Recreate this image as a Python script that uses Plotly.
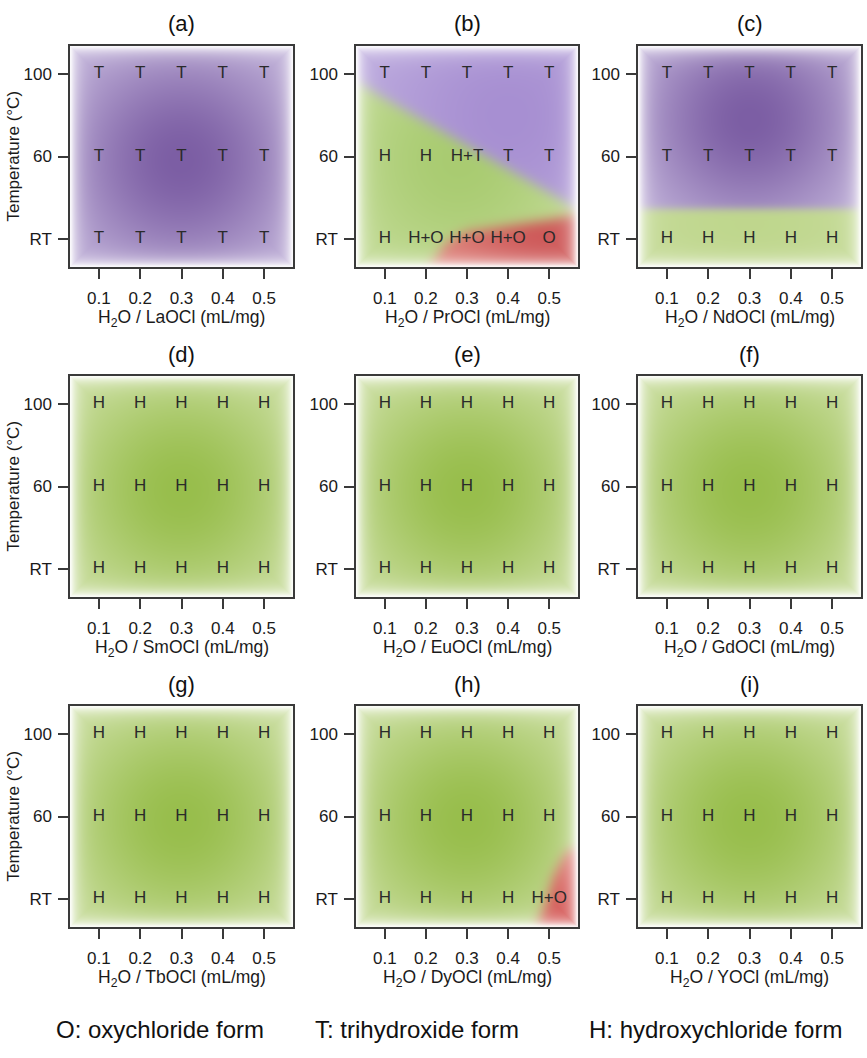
import numpy as np
import plotly.graph_objects as go

# ---------------- data ----------------
x_ratio = [0.1, 0.2, 0.3, 0.4, 0.5]          # H2O / REOCl (mL/mg)
temp_labels = ["RT", "60", "100"]             # rows, bottom to top
compounds = ["LaOCl", "PrOCl", "NdOCl", "SmOCl", "EuOCl", "GdOCl", "TbOCl", "DyOCl", "YOCl"]
panel_tags = ["(a)", "(b)", "(c)", "(d)", "(e)", "(f)", "(g)", "(h)", "(i)"]

# phase found at each (temperature row, ratio column)
phase_LaOCl = [["T", "T", "T", "T", "T"], ["T", "T", "T", "T", "T"], ["T", "T", "T", "T", "T"]]
phase_PrOCl = [["H", "H+O", "H+O", "H+O", "O"], ["H", "H", "H+T", "T", "T"], ["T", "T", "T", "T", "T"]]
phase_NdOCl = [["H", "H", "H", "H", "H"], ["T", "T", "T", "T", "T"], ["T", "T", "T", "T", "T"]]
phase_SmOCl = [["H"] * 5, ["H"] * 5, ["H"] * 5]
phase_EuOCl = [["H"] * 5, ["H"] * 5, ["H"] * 5]
phase_GdOCl = [["H"] * 5, ["H"] * 5, ["H"] * 5]
phase_TbOCl = [["H"] * 5, ["H"] * 5, ["H"] * 5]
phase_DyOCl = [["H", "H", "H", "H", "H+O"], ["H"] * 5, ["H"] * 5]
phase_YOCl = [["H"] * 5, ["H"] * 5, ["H"] * 5]
phases = [phase_LaOCl, phase_PrOCl, phase_NdOCl, phase_SmOCl, phase_EuOCl,
          phase_GdOCl, phase_TbOCl, phase_DyOCl, phase_YOCl]

# phase-region boundaries (x in mL/mg, y as temperature row index: RT=0, 60=1, 100=2)
PrOCl_T_edge_x = [0.03, 0.57]
PrOCl_T_edge_y = [1.90, 0.36]            # trihydroxide above this edge
PrOCl_O_edge_x = [0.21, 0.25, 0.30, 0.40, 0.50, 0.57]
PrOCl_O_edge_y = [-0.34, -0.04, 0.09, 0.16, 0.23, 0.30]   # oxychloride below this edge
NdOCl_T_edge_x = [0.03, 0.57]
NdOCl_T_edge_y = [0.36, 0.36]            # trihydroxide above this edge
DyOCl_O_edge_x = [0.47, 0.495, 0.51, 0.534, 0.55, 0.57]
DyOCl_O_edge_y = [-0.34, 0.0, 0.27, 0.50, 0.60, 0.62]     # oxychloride below this edge

legend_items = ["O: oxychloride form", "T: trihydroxide form", "H: hydroxychloride form"]

# ---------------- style / layout ----------------
W, H = 867, 1058
col_px = [(70, 293), (356, 578), (638, 861)]
row_px = [(46, 267), (376, 597), (706, 927)]
XR = [0.03, 0.57]
YR = [-0.34, 2.34]
FONT = "Liberation Sans, Arial, sans-serif"
LINE = "#3a3a3a"

PAL = {  # (dark centre colour, light outer colour)
    "T": ((124, 94, 164), (206, 194, 228)),
    "H": ((152, 190, 76), (212, 228, 176)),
    "O": ((212, 86, 84), (234, 156, 150)),
    "T_b": ((160, 134, 206), (196, 180, 226)),
    "H_b": ((160, 198, 100), (206, 226, 166)),
    "O_b": ((206, 88, 88), (226, 140, 130)),
}


def blur(a, sigma):
    r = int(3 * sigma)
    k = np.exp(-0.5 * (np.arange(-r, r + 1) / sigma) ** 2)
    k /= k.sum()
    p = np.pad(a, r, mode="edge")
    t = np.apply_along_axis(lambda v: np.convolve(v, k, mode="valid"), 1, p)
    return np.apply_along_axis(lambda v: np.convolve(v, k, mode="valid"), 0, t)


def glow(key, X, Y, cx, cy, sig, strength):
    dark, light = (np.array(v, float) for v in PAL[key])
    r2 = (((X - cx) / 0.1) * 41.2) ** 2 + ((Y - cy) * 83) ** 2
    g = strength * np.exp(-0.5 * r2 / sig ** 2)
    return light[None, None, :] + (dark - light)[None, None, :] * g[:, :, None]


def above(X, Y, ex, ey):
    return (Y > np.interp(X, ex, ey)).astype(float)


def below(X, Y, ex, ey):
    yt = np.interp(X, ex, ey, left=-10, right=ey[-1])
    return ((Y < yt) & (X >= ex[0])).astype(float)


def panel_image(k, npx_w, npx_h):
    xs = XR[0] + (np.arange(npx_w) + 0.5) * (XR[1] - XR[0]) / npx_w
    ys = YR[0] + (np.arange(npx_h) + 0.5) * (YR[1] - YR[0]) / npx_h
    X, Y = np.meshgrid(xs, ys)
    layers = []
    if k == 1:
        mT = blur(above(X, Y, PrOCl_T_edge_x, PrOCl_T_edge_y), 6)
        mO = blur(below(X, Y, PrOCl_O_edge_x, PrOCl_O_edge_y), 6)
        layers = [(mT, glow("T_b", X, Y, 0.40, 1.5, 100, 0.8)),
                  (mO, glow("O_b", X, Y, 0.50, 0.0, 70, 1.0))]
        basec = glow("H_b", X, Y, 0.28, 0.95, 90, 0.8)
    elif k == 2:
        mT = blur(above(X, Y, NdOCl_T_edge_x, NdOCl_T_edge_y), 4)
        layers = [(mT, glow("T", X, Y, 0.3, 1.45, 80, 1.0))]
        basec = glow("H", X, Y, 0.3, 0.0, 120, 0.35)
    elif k == 7:
        mO = blur(below(X, Y, DyOCl_O_edge_x, DyOCl_O_edge_y), 6)
        layers = [(mO, glow("O", X, Y, 0.56, -0.3, 60, 1.0))]
        basec = glow("H", X, Y, 0.3, 0.95, 85, 1.0)
    else:
        basec = glow("T" if k == 0 else "H", X, Y, 0.3, 0.95, 85, 1.0)
    img = basec.copy()
    for m, c in layers:
        img = img * (1 - m[:, :, None]) + c * m[:, :, None]
    # gradual fade to white next to the frame
    jj, ii = np.meshgrid(np.arange(npx_h), np.arange(npx_w), indexing="ij")
    d = np.minimum.reduce([ii + 0.5, npx_w - ii - 0.5, jj + 0.5, npx_h - jj - 0.5])
    s = 1 - np.exp(-np.clip(d - 1.0, 0, None) / 7.0)
    img = 255 + (img - 255) * (0.08 + 0.92 * s)[:, :, None]
    img = np.clip(img, 0, 255).astype(np.uint8)
    return img, xs, ys


fig = go.Figure()
layout = dict(width=W, height=H, margin=dict(l=0, r=0, t=0, b=0),
              paper_bgcolor="white", plot_bgcolor="white", showlegend=False,
              font=dict(family=FONT, color="#1a1a1a", size=17))
annotations = []

for k in range(9):
    r, c = divmod(k, 3)
    x0p, x1p = col_px[c]
    y0p, y1p = row_px[r]
    ax = "" if k == 0 else str(k + 1)
    img, xs, ys = panel_image(k, x1p - x0p, y1p - y0p)
    fig.add_trace(go.Image(z=img, x0=xs[0], dx=xs[1] - xs[0], y0=ys[0], dy=ys[1] - ys[0],
                           xaxis="x" + ax, yaxis="y" + ax, hoverinfo="skip"))
    px, py, pt = [], [], []
    for j, row in enumerate(phases[k]):
        for i, lab in enumerate(row):
            px.append(x_ratio[i]); py.append(j); pt.append(lab)
    fig.add_trace(go.Scatter(x=px, y=py, text=pt, mode="text", xaxis="x" + ax, yaxis="y" + ax,
                             textfont=dict(family=FONT, size=17, color="#2a2a2a"),
                             hoverinfo="skip", cliponaxis=False))
    common = dict(showgrid=False, zeroline=False, showline=True, mirror=True, linecolor=LINE,
                  linewidth=1.5, ticks="outside", ticklen=10, tickwidth=1.5, tickcolor=LINE,
                  tickfont=dict(family=FONT, size=17, color="#1a1a1a"), fixedrange=True,
                  autorange=False)
    layout["xaxis" + ax] = dict(common, domain=[x0p / W, x1p / W], range=XR,
                                tickvals=x_ratio, ticktext=[f"{v:.1f}" for v in x_ratio],
                                anchor="y" + ax, ticklabelstandoff=5, constrain="range")
    layout["yaxis" + ax] = dict(common, domain=[1 - y1p / H, 1 - y0p / H], range=YR,
                                tickvals=[0, 1, 2], ticktext=temp_labels, anchor="x" + ax,
                                scaleanchor=False, constrain="range", ticklabelstandoff=3)
    xc = (x0p + x1p) / 2 / W
    annotations.append(dict(text=panel_tags[k], x=xc, y=1 - (y0p - 22) / H, xref="paper", yref="paper",
                            showarrow=False, font=dict(family=FONT, size=22, color="#111"),
                            xanchor="center", yanchor="middle"))
    annotations.append(dict(text=f"H<sub>2</sub>O / {compounds[k]} (mL/mg)", x=xc, y=1 - (y1p + 51) / H,
                            xref="paper", yref="paper", showarrow=False,
                            font=dict(family=FONT, size=17.5, color="#1a1a1a"),
                            xanchor="center", yanchor="middle"))
    if c == 0:
        annotations.append(dict(text="Temperature (°C)", x=13 / W, y=1 - (y0p + y1p) / 2 / H,
                                xref="paper", yref="paper", showarrow=False, textangle=-90,
                                font=dict(family=FONT, size=17, color="#1a1a1a"),
                                xanchor="center", yanchor="middle"))

for txt, xc in zip(legend_items, [160, 417, 715]):
    annotations.append(dict(text=txt, x=xc / W, y=1 - 1029 / H, xref="paper", yref="paper",
                            showarrow=False, font=dict(family=FONT, size=24, color="#111"),
                            xanchor="center", yanchor="middle"))

layout["annotations"] = annotations
fig.update_layout(**layout)
fig.write_html("out.html")
